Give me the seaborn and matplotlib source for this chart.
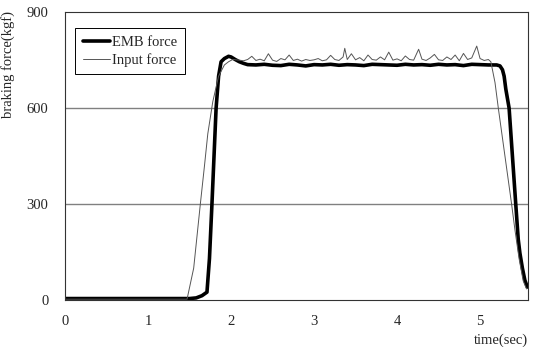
import numpy as np
import pandas as pd
import seaborn as sns
import matplotlib.pyplot as plt

# EMB (measured) braking force, kgf
emb_t = [0.0, 0.5, 1.0, 1.5, 1.58, 1.65, 1.71, 1.74, 1.77, 1.80, 1.82, 1.85, 1.88, 1.92, 1.97, 2.00,
         2.05, 2.10, 2.15, 2.20, 2.30, 2.40, 2.50, 2.60, 2.70, 2.80, 2.90, 3.00, 3.10, 3.20,
         3.30, 3.40, 3.50, 3.60, 3.70, 3.80, 3.90, 4.00, 4.10, 4.20, 4.30, 4.40, 4.50, 4.60,
         4.70, 4.80, 4.90, 5.00, 5.10, 5.20, 5.24, 5.27, 5.29, 5.31, 5.35, 5.39, 5.43, 5.46,
         5.48, 5.51, 5.54, 5.57]
emb_f = [5, 5, 5, 5, 7, 14, 25, 130, 300, 480, 600, 700, 745, 755, 762, 760,
         752, 745, 740, 736, 735, 737, 734, 733, 737, 735, 732, 736, 735, 737,
         734, 736, 735, 733, 737, 736, 735, 734, 737, 735, 736, 734, 737, 735,
         736, 733, 737, 736, 735, 735, 732, 720, 700, 660, 600, 450, 300, 190,
         147, 100, 62, 41]

# Input (command) braking force, kgf
inp_t = [0.0, 0.5, 1.0, 1.47, 1.55, 1.63, 1.68, 1.72, 1.78, 1.85, 1.92, 1.97, 2.02,
         2.10, 2.15, 2.20, 2.25, 2.30, 2.35, 2.40, 2.45, 2.50, 2.55, 2.60, 2.65, 2.70,
         2.75, 2.80, 2.85, 2.90, 2.95, 3.00, 3.05, 3.10, 3.15, 3.20, 3.25, 3.30, 3.35,
         3.37, 3.40, 3.45, 3.50, 3.55, 3.60, 3.65, 3.70, 3.75, 3.80, 3.85, 3.90, 3.95,
         4.00, 4.05, 4.10, 4.15, 4.20, 4.26, 4.30, 4.35, 4.40, 4.45, 4.50, 4.55, 4.60,
         4.65, 4.70, 4.75, 4.80, 4.85, 4.90, 4.96, 5.00, 5.05, 5.10, 5.13, 5.18, 5.22,
         5.30, 5.38, 5.42, 5.47, 5.52, 5.56]
inp_f = [3, 3, 3, 3, 100, 300, 420, 520, 620, 700, 735, 745, 752,
         750, 748, 752, 762, 749, 753, 748, 770, 750, 746, 755, 751, 766,
         749, 753, 747, 752, 749, 751, 755, 748, 751, 765, 752, 749, 760,
         787, 752, 770, 751, 758, 748, 766, 752, 750, 760, 751, 775, 750,
         754, 748, 763, 752, 750, 784, 753, 749, 757, 768, 751, 749, 760,
         752, 766, 748, 771, 752, 757, 794, 755, 749, 752, 745, 680, 600,
         450, 300, 220, 130, 60, 35]

y_ticks = [0, 300, 600, 900]
x_ticks = [0, 1, 2, 3, 4, 5]

emb = pd.DataFrame({'t': emb_t, 'f': emb_f})
inp = pd.DataFrame({'t': inp_t, 'f': inp_f})

sns.set_style("white")
plt.rcParams['font.family'] = ['Liberation Serif', 'DejaVu Serif']

fig = plt.figure(figsize=(5.33, 3.47), dpi=100)
ax = fig.add_axes([0.122, 0.135, 0.869, 0.83])

sns.lineplot(data=emb, x='t', y='f', ax=ax, color='black', linewidth=2.6,
             label='EMB force', estimator=None, sort=False)
sns.lineplot(data=inp, x='t', y='f', ax=ax, color='#555555', linewidth=0.7,
             label='Input force', estimator=None, sort=False)

ax.set_xlim(0, 5.58)
ax.set_ylim(0, 900)
ax.set_xticks(x_ticks)
ax.set_yticks(y_ticks)
ax.tick_params(axis='x', length=0, labelsize=10.5, pad=11)
ax.tick_params(axis='y', length=0, labelsize=10.5, pad=12)
for y in [300, 600]:
    ax.axhline(y, color='#808080', linewidth=1.0, zorder=0)
for s in ax.spines.values():
    s.set_color('#333333')
    s.set_linewidth(0.8)

ax.set_ylabel('braking force(kgf)', fontsize=10.5, loc='top')
ax.yaxis.set_label_coords(-0.108, 1.005)
ax.set_xlabel('time(sec)', fontsize=10.5, loc='right')
ax.xaxis.set_label_coords(1.0, -0.115)

# legend box, top left
leg = ax.legend(loc='upper left', bbox_to_anchor=(0.022, 0.944), borderaxespad=0,
                fontsize=10.5, frameon=True, fancybox=False, edgecolor='black',
                framealpha=1, handlelength=1.9, handletextpad=0.15, borderpad=0.5,
                labelspacing=0.3)
leg.get_frame().set_linewidth(0.7)

fig.savefig('out.png', dpi=100)
